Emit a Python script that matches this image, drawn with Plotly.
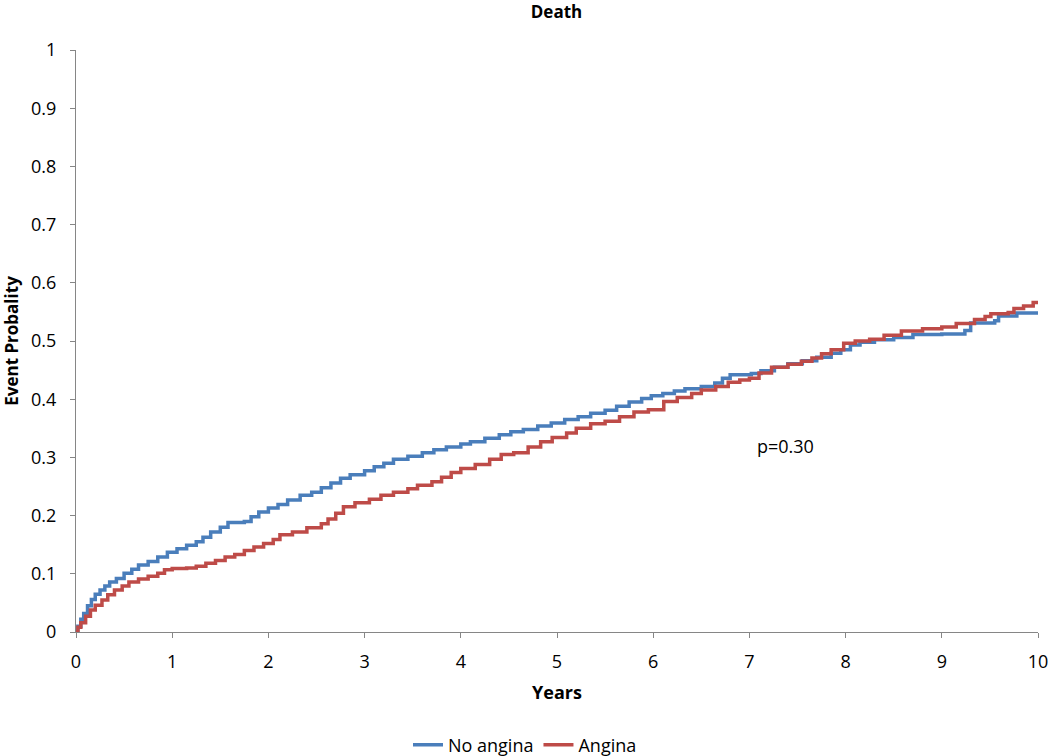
import plotly.graph_objects as go

# No angina (blue) – step curve
t_no = [0.00, 0.02, 0.05, 0.08, 0.12, 0.16, 0.20, 0.25, 0.30, 0.35, 0.42, 0.50, 0.58, 0.65, 0.75,
        0.85, 0.95, 1.05, 1.15, 1.25, 1.32, 1.40, 1.50, 1.58, 1.75, 1.82, 1.90, 2.00, 2.10, 2.20,
        2.33, 2.45, 2.55, 2.65, 2.75, 2.85, 3.00, 3.10, 3.20, 3.30, 3.45, 3.60, 3.72, 3.85, 4.00,
        4.10, 4.25, 4.40, 4.52, 4.65, 4.80, 4.94, 5.08, 5.22, 5.35, 5.50, 5.62, 5.75, 5.88, 5.98,
        6.10, 6.22, 6.33, 6.50, 6.64, 6.72, 6.80, 7.02, 7.12, 7.26, 7.40, 7.55, 7.70, 7.85, 7.95,
        8.05, 8.15, 8.30, 8.50, 8.70, 9.00, 9.24, 9.30, 9.55, 9.59, 9.78, 10.0]
p_no = [0.000, 0.010, 0.022, 0.032, 0.045, 0.056, 0.065, 0.072, 0.079, 0.086, 0.092, 0.101, 0.108, 0.115, 0.121,
        0.129, 0.137, 0.143, 0.149, 0.155, 0.163, 0.172, 0.180, 0.188, 0.190, 0.198, 0.206, 0.213, 0.219, 0.227,
        0.235, 0.240, 0.248, 0.256, 0.264, 0.270, 0.277, 0.284, 0.290, 0.297, 0.302, 0.308, 0.313, 0.318, 0.323,
        0.327, 0.333, 0.339, 0.344, 0.348, 0.354, 0.359, 0.365, 0.370, 0.376, 0.381, 0.388, 0.395, 0.401, 0.406,
        0.410, 0.414, 0.418, 0.422, 0.428, 0.436, 0.442, 0.444, 0.449, 0.455, 0.461, 0.466, 0.472, 0.479, 0.485,
        0.493, 0.498, 0.502, 0.506, 0.511, 0.512, 0.518, 0.531, 0.535, 0.543, 0.548, 0.548]

# Angina (red)
t_an = [0.00, 0.02, 0.05, 0.10, 0.15, 0.20, 0.27, 0.33, 0.40, 0.48, 0.55, 0.65, 0.75, 0.85, 0.92,
        1.00, 1.15, 1.25, 1.35, 1.45, 1.55, 1.65, 1.75, 1.85, 1.95, 2.05, 2.12, 2.25, 2.40, 2.55,
        2.62, 2.70, 2.78, 2.90, 3.05, 3.17, 3.30, 3.45, 3.55, 3.70, 3.80, 3.90, 4.00, 4.15, 4.30,
        4.42, 4.55, 4.70, 4.83, 4.95, 5.10, 5.20, 5.35, 5.50, 5.65, 5.80, 5.95, 6.11, 6.25, 6.40,
        6.50, 6.65, 6.78, 6.90, 7.00, 7.10, 7.23, 7.40, 7.54, 7.65, 7.75, 7.85, 7.98, 8.10, 8.25,
        8.40, 8.58, 8.80, 9.00, 9.15, 9.34, 9.45, 9.51, 9.69, 9.75, 9.85, 9.95, 10.0]
p_an = [0.000, 0.008, 0.016, 0.027, 0.038, 0.046, 0.055, 0.064, 0.072, 0.079, 0.086, 0.091, 0.096, 0.101, 0.107,
        0.109, 0.110, 0.113, 0.118, 0.123, 0.129, 0.133, 0.140, 0.146, 0.152, 0.159, 0.167, 0.172, 0.179, 0.186,
        0.194, 0.204, 0.215, 0.222, 0.228, 0.235, 0.240, 0.246, 0.252, 0.258, 0.266, 0.274, 0.281, 0.288, 0.297,
        0.305, 0.308, 0.318, 0.327, 0.334, 0.342, 0.350, 0.358, 0.362, 0.370, 0.378, 0.382, 0.396, 0.403, 0.410,
        0.416, 0.422, 0.429, 0.433, 0.436, 0.445, 0.455, 0.460, 0.465, 0.471, 0.478, 0.485, 0.496, 0.500, 0.503,
        0.510, 0.517, 0.521, 0.524, 0.530, 0.537, 0.542, 0.547, 0.549, 0.556, 0.560, 0.566, 0.567]

x_ticks = list(range(0, 11))
y_ticks = [0, 0.1, 0.2, 0.3, 0.4, 0.5, 0.6, 0.7, 0.8, 0.9, 1]
y_tick_labels = ["0", "0.1", "0.2", "0.3", "0.4", "0.5", "0.6", "0.7", "0.8", "0.9", "1"]

FONT = "Open Sans, Liberation Sans, sans-serif"
AXIS_COLOR = "#868686"

fig = go.Figure()
fig.add_trace(go.Scatter(x=t_no, y=p_no, mode="lines", name="No angina",
                         line=dict(color="#4a7ebb", width=3.5, shape="hv")))
fig.add_trace(go.Scatter(x=t_an, y=p_an, mode="lines", name="Angina",
                         line=dict(color="#be4b48", width=3.5, shape="hv")))

fig.add_annotation(x=7.38, y=0.32, xref="x", yref="y", text="p=0.30", showarrow=False,
                   font=dict(family=FONT, size=18, color="#000000"))

fig.update_layout(
    width=1050, height=756,
    paper_bgcolor="white", plot_bgcolor="white",
    margin=dict(l=76, r=12, t=50, b=124, autoexpand=False),
    font=dict(family=FONT, size=17, color="#000000"),
    title=dict(text="<b>Death</b>", x=0.53, xanchor="center", yref="container", y=0.984, yanchor="middle",
               font=dict(family=FONT, size=17, color="#000000")),
    showlegend=True,
    legend=dict(orientation="h", xref="container", x=0.5, xanchor="center",
                yref="container", y=0.0146, yanchor="middle",
                font=dict(family=FONT, size=18), itemwidth=30, traceorder="normal"),
    xaxis=dict(range=[0, 10], tickvals=x_ticks, showgrid=False, zeroline=False,
               showline=True, linecolor=AXIS_COLOR, linewidth=1, automargin=False,
               ticks="outside", ticklen=5, tickcolor=AXIS_COLOR, ticklabelstandoff=8,
               tickfont=dict(family=FONT, size=18),
               title=dict(text="<b>Years</b>", font=dict(family=FONT, size=18), standoff=14)),
    yaxis=dict(range=[0, 1], tickvals=y_ticks, ticktext=y_tick_labels, showgrid=False, zeroline=False,
               showline=True, linecolor=AXIS_COLOR, linewidth=1, automargin=False,
               ticks="outside", ticklen=5, tickcolor=AXIS_COLOR, ticklabelstandoff=10,
               tickfont=dict(family=FONT, size=18),
               title=dict(text="<b>Event Probality</b>", font=dict(family=FONT, size=17), standoff=10)),
)

fig.write_html("out.html", config={"displayModeBar": False},
               post_script="document.body.style.margin='0';")
